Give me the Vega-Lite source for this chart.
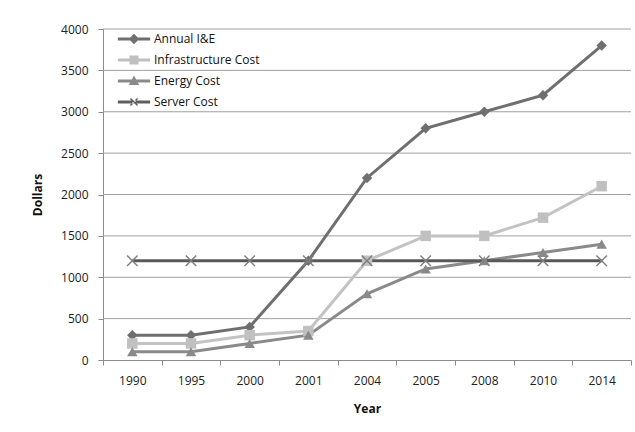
{
  "$schema": "https://vega.github.io/schema/vega-lite/v6.json",
  "width": 528,
  "height": 331,
  "autosize": {"type": "none"},
  "padding": {"left": 103, "top": 29, "right": 4, "bottom": 72},
  "background": "white",
  "config": {
    "font": "Open Sans",
    "view": {"stroke": null},
    "axis": {"labelFont": "Open Sans", "labelFontSize": 12, "labelColor": "#222", "titleFont": "Open Sans", "titleFontSize": 12, "titleFontWeight": "bold", "titleColor": "#111"}
  },
  "datasets": {
    "costs": [
      {"year": "1990", "series": "Annual I&E", "value": 300},
      {"year": "1995", "series": "Annual I&E", "value": 300},
      {"year": "2000", "series": "Annual I&E", "value": 400},
      {"year": "2001", "series": "Annual I&E", "value": 1200},
      {"year": "2004", "series": "Annual I&E", "value": 2200},
      {"year": "2005", "series": "Annual I&E", "value": 2800},
      {"year": "2008", "series": "Annual I&E", "value": 3000},
      {"year": "2010", "series": "Annual I&E", "value": 3200},
      {"year": "2014", "series": "Annual I&E", "value": 3800},
      {"year": "1990", "series": "Infrastructure Cost", "value": 200},
      {"year": "1995", "series": "Infrastructure Cost", "value": 200},
      {"year": "2000", "series": "Infrastructure Cost", "value": 300},
      {"year": "2001", "series": "Infrastructure Cost", "value": 350},
      {"year": "2004", "series": "Infrastructure Cost", "value": 1200},
      {"year": "2005", "series": "Infrastructure Cost", "value": 1500},
      {"year": "2008", "series": "Infrastructure Cost", "value": 1500},
      {"year": "2010", "series": "Infrastructure Cost", "value": 1720},
      {"year": "2014", "series": "Infrastructure Cost", "value": 2100},
      {"year": "1990", "series": "Energy Cost", "value": 100},
      {"year": "1995", "series": "Energy Cost", "value": 100},
      {"year": "2000", "series": "Energy Cost", "value": 200},
      {"year": "2001", "series": "Energy Cost", "value": 300},
      {"year": "2004", "series": "Energy Cost", "value": 800},
      {"year": "2005", "series": "Energy Cost", "value": 1100},
      {"year": "2008", "series": "Energy Cost", "value": 1200},
      {"year": "2010", "series": "Energy Cost", "value": 1300},
      {"year": "2014", "series": "Energy Cost", "value": 1400},
      {"year": "1990", "series": "Server Cost", "value": 1200},
      {"year": "1995", "series": "Server Cost", "value": 1200},
      {"year": "2000", "series": "Server Cost", "value": 1200},
      {"year": "2001", "series": "Server Cost", "value": 1200},
      {"year": "2004", "series": "Server Cost", "value": 1200},
      {"year": "2005", "series": "Server Cost", "value": 1200},
      {"year": "2008", "series": "Server Cost", "value": 1200},
      {"year": "2010", "series": "Server Cost", "value": 1200},
      {"year": "2014", "series": "Server Cost", "value": 1200}
    ],
    "gridlines": [
      {"tick": 500}, {"tick": 1000}, {"tick": 1500}, {"tick": 2000},
      {"tick": 2500}, {"tick": 3000}, {"tick": 3500}, {"tick": 4000}
    ]
  },
  "layer": [
    {
      "data": {"name": "gridlines"},
      "mark": {"type": "rule", "stroke": "#a0a0a0", "strokeWidth": 1},
      "encoding": {
        "y": {
          "field": "tick", "type": "quantitative",
          "scale": {"domain": [0, 4000], "nice": false},
          "axis": {"title": "Dollars", "format": "d", "values": [0, 500, 1000, 1500, 2000, 2500, 3000, 3500, 4000], "domainColor": "#8c8c8c", "tickColor": "#8c8c8c", "tickSize": 5, "labelPadding": 10, "titlePadding": 16, "grid": false}
        }
      }
    },
    {
      "data": {"name": "costs"},
      "mark": {"type": "line", "strokeWidth": 3},
      "encoding": {
        "x": {
          "field": "year", "type": "ordinal", "sort": null,
          "scale": {"type": "band", "paddingInner": 0, "paddingOuter": 0},
          "axis": {"title": "Year", "labelAngle": 0, "domainColor": "#8c8c8c", "tickColor": "#8c8c8c", "tickBand": "extent", "tickSize": 5, "labelPadding": 10, "titlePadding": 17, "grid": false}
        },
        "y": {
          "field": "value", "type": "quantitative",
          "scale": {"domain": [0, 4000], "nice": false},
          "axis": {"title": "Dollars", "format": "d", "values": [0, 500, 1000, 1500, 2000, 2500, 3000, 3500, 4000], "domainColor": "#8c8c8c", "tickColor": "#8c8c8c", "tickSize": 5, "labelPadding": 10, "titlePadding": 16, "grid": false}
        },
        "stroke": {
          "field": "series", "type": "nominal", "sort": null,
          "scale": {"range": ["#6f6f6f", "#c3c3c3", "#8a8a8a", "#595959"]},
          "legend": null
        }
      }
    },
    {
      "data": {"name": "costs"},
      "mark": {"type": "point", "filled": true, "size": 110, "opacity": 1, "strokeWidth": 1.5},
      "encoding": {
        "x": {"field": "year", "type": "ordinal", "sort": null},
        "y": {"field": "value", "type": "quantitative"},
        "fill": {
          "condition": [
            {"test": "datum.series === 'Annual I&E'", "value": "#6f6f6f"},
            {"test": "datum.series === 'Infrastructure Cost'", "value": "#c0c0c0"},
            {"test": "datum.series === 'Energy Cost'", "value": "#8a8a8a"}
          ],
          "value": "#808080"
        },
        "shape": {
          "condition": [
            {"test": "datum.series === 'Annual I&E'", "value": "diamond"},
            {"test": "datum.series === 'Infrastructure Cost'", "value": "square"},
            {"test": "datum.series === 'Energy Cost'", "value": "triangle-up"}
          ],
          "value": "M-1,-1L1,1M-1,1L1,-1"
        },
        "stroke": {
          "condition": {"test": "datum.series === 'Server Cost'", "value": "#808080"},
          "value": null
        }
      }
    },
    {
      "data": {"name": "costs"},
      "mark": {"type": "point", "filled": true, "size": 0, "strokeWidth": 0},
      "encoding": {
        "x": {"field": "year", "type": "ordinal", "sort": null},
        "y": {"field": "value", "type": "quantitative"},
        "fill": {
          "field": "series", "type": "nominal", "sort": null,
          "scale": {"domain": ["Annual I&E", "Infrastructure Cost", "Energy Cost", "Server Cost"], "range": ["#6f6f6f", "#c0c0c0", "#8a8a8a", "#5e5e5e"]},
          "legend": {"title": null, "orient": "none", "legendX": 25, "legendY": 4, "padding": 0, "symbolSize": 90, "symbolStrokeWidth": 0, "symbolOpacity": 1, "labelFontSize": 12, "labelColor": "#111", "labelOffset": 14, "rowPadding": 9}
        },
        "shape": {
          "field": "series", "type": "nominal", "sort": null,
          "scale": {
            "domain": ["Annual I&E", "Infrastructure Cost", "Energy Cost", "Server Cost"],
            "range": [
              "M-3.4,-0.32H3.4V0.32H-3.4ZM0,-1.1L1.1,0L0,1.1L-1.1,0Z",
              "M-3.4,-0.32H3.4V0.32H-3.4ZM-0.95,-0.95H0.95V0.95H-0.95Z",
              "M-3.4,-0.32H3.4V0.32H-3.4ZM0,-1.15L1.1,0.85H-1.1Z",
              "M-3.4,-0.32H3.4V0.32H-3.4ZM-0.644,-0.856L0.856,0.644L0.644,0.856L-0.856,-0.644ZM-0.644,0.856L0.856,-0.644L0.644,-0.856L-0.856,0.644Z"
            ]
          },
          "legend": {"title": null, "orient": "none", "legendX": 25, "legendY": 4, "padding": 0, "symbolSize": 90, "symbolStrokeWidth": 0, "symbolOpacity": 1, "labelFontSize": 12, "labelColor": "#111", "labelOffset": 14, "rowPadding": 9}
        }
      }
    }
  ]
}
